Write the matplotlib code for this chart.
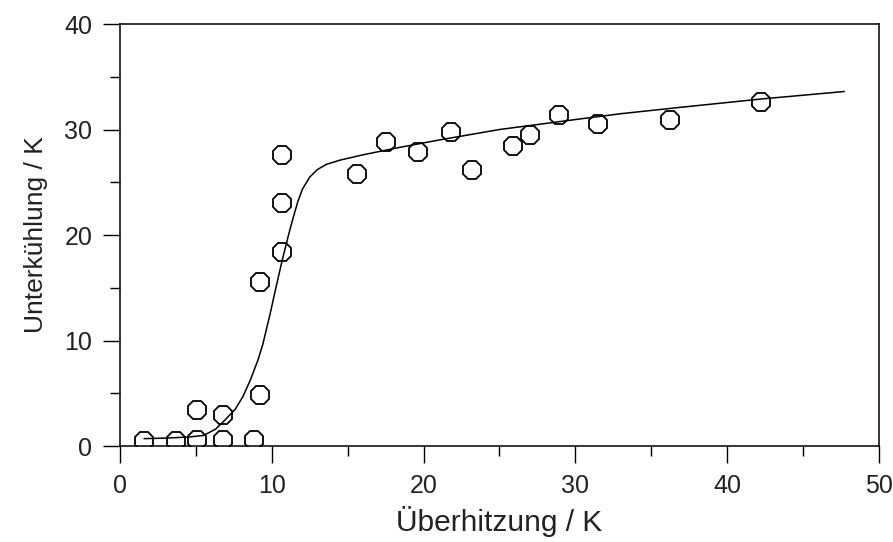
import matplotlib
matplotlib.use("Agg")
import matplotlib.pyplot as plt
from matplotlib.ticker import MultipleLocator

plt.rcParams['font.family'] = ['Liberation Sans', 'DejaVu Sans']

# Measured points: superheat (x) vs. subcooling (y), both in K
superheat = [1.6, 3.7, 5.1, 5.1, 6.8, 6.8, 8.8, 9.2, 9.2, 10.7, 10.7, 10.7,
             15.6, 17.5, 19.6, 21.8, 23.2, 25.9, 27.0, 28.9, 31.5, 36.2, 42.2]
subcooling = [0.5, 0.5, 3.4, 0.6, 2.9, 0.6, 0.6, 4.8, 15.5, 18.4, 23.0, 27.6,
              25.8, 28.8, 27.9, 29.8, 26.2, 28.4, 29.5, 31.4, 30.5, 30.9, 32.6]

# Fitted trend curve
fit_x = [1.6, 3.0, 4.5, 5.5, 6.3, 6.8, 7.6, 8.1, 8.6, 9.1, 9.4, 9.9, 10.3,
         10.7, 11.1, 11.4, 11.7, 12.0, 12.5, 13.0, 13.6, 14.5, 16.0, 18.4,
         21.0, 25.0, 30.3, 33.0, 36.9, 42.3, 47.7]
fit_y = [0.7, 0.75, 0.85, 1.0, 1.6, 2.3, 3.5, 4.7, 6.3, 8.2, 9.6, 12.6, 15.2,
         17.7, 20.0, 21.6, 23.1, 24.3, 25.5, 26.2, 26.7, 27.1, 27.6, 28.3,
         29.0, 30.0, 31.0, 31.5, 32.1, 32.9, 33.6]

fig = plt.figure(figsize=(8.93, 5.42), dpi=100)
ax = fig.add_axes([0.1344, 0.1771, 0.8499, 0.7786])

ax.plot(fit_x, fit_y, color='black', linewidth=1.1, zorder=2)
ax.plot(superheat, subcooling, linestyle='none', marker='8', markersize=14.5,
        markerfacecolor='none', markeredgecolor='black', markeredgewidth=1.3,
        zorder=3)

ax.set_xlim(0, 50)
ax.set_ylim(0, 40)
ax.xaxis.set_major_locator(MultipleLocator(10))
ax.xaxis.set_minor_locator(MultipleLocator(5))
ax.yaxis.set_major_locator(MultipleLocator(10))
ax.yaxis.set_minor_locator(MultipleLocator(5))

ax.tick_params(which='major', direction='out', length=12, width=1.0,
               labelsize=18, pad=8, colors='black')
ax.tick_params(which='minor', direction='out', length=7, width=1.0)
ax.tick_params(axis='x', which='both', top=False)
ax.tick_params(axis='y', which='both', right=False)
ax.tick_params(axis='both', labelcolor='#222222')

for sp in ax.spines.values():
    sp.set_linewidth(1.1)
    sp.set_color('black')

ax.set_xlabel('Überhitzung / K', fontsize=21.5, color='#222222', labelpad=6)
ax.set_ylabel('Unterkühlung / K', fontsize=19, color='#222222', labelpad=12)

fig.savefig('out.png', dpi=100)
